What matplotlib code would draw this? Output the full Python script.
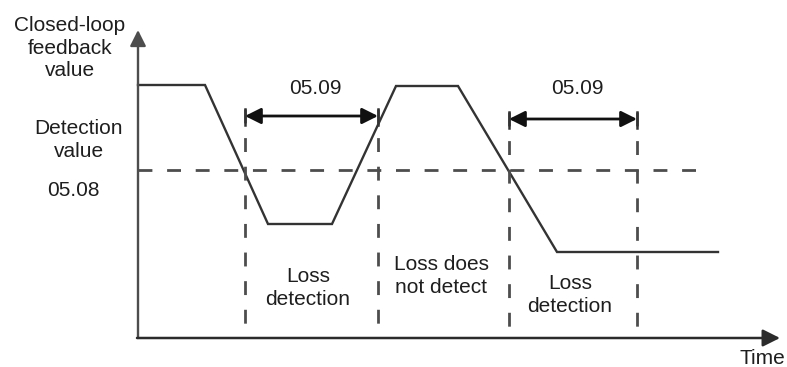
import matplotlib
matplotlib.use("Agg")
import matplotlib.pyplot as plt

# ---- data (time / value units, origin at axes corner) ----
signal_t = [0, 67, 130, 194, 258, 320, 419, 580]
signal_v = [253, 253, 114, 114, 252, 252, 86, 86]
detection_level = 168
detection_end = 560
marker_t = [107, 240, 371, 499]
marker_top = [229, 229, 226, 226]
span_pairs = [(107, 240), (371, 499)]
span_levels = [222, 219]
span_label = "05.09"
region_labels = ["Loss\ndetection", "Loss does\nnot detect", "Loss\ndetection"]
region_centers = [(170, 50), (303, 62), (432, 43)]
y_title = "Closed-loop\nfeedback\nvalue"
det_title = "Detection\nvalue"
det_param = "05.08"
x_title = "Time"

W, H = 787, 367
OX, OY = 138, 338  # pixel position of origin

plt.rcParams['font.family'] = ['Liberation Sans', 'DejaVu Sans']
fig = plt.figure(figsize=(W / 100, H / 100), dpi=100)
ax = fig.add_axes([0, 0, 1, 1])
ax.set_xlim(-OX, W - OX)
ax.set_ylim(-(H - OY), OY)
ax.axis('off')

fs = 15
dark = '#2b2b2b'
gray = '#4d4d4d'
tc = '#1e1e1e'

# axes with arrows
ax.annotate('', xy=(0, 308), xytext=(0, 0),
            arrowprops=dict(arrowstyle='-|>', color=gray, lw=1.7,
                            mutation_scale=24, shrinkA=0, shrinkB=0))
ax.annotate('', xy=(642, 0), xytext=(-1, 0),
            arrowprops=dict(arrowstyle='-|>', color=dark, lw=1.8,
                            mutation_scale=26, shrinkA=0, shrinkB=0))

# signal
ax.plot(signal_t, signal_v, color='#333333', lw=1.7, solid_joinstyle='miter')

# detection level dashed
ax.plot([0, detection_end], [detection_level, detection_level], color=gray,
        lw=2.0, dashes=(5, 5.3))

# vertical dashed markers
for t, top in zip(marker_t, marker_top):
    ax.plot([t, t], [top, 0], color=gray, lw=2.0, dashes=(5, 5.3))

# dimension arrows
for (t1, t2), lv in zip(span_pairs, span_levels):
    ax.annotate('', xy=(t2, lv), xytext=(t1, lv),
                arrowprops=dict(arrowstyle='<|-|>', color='#111111', lw=2.0,
                                mutation_scale=24, shrinkA=0, shrinkB=0))
    ax.plot([t1, t1], [lv + 7, lv - 9], color='#333333', lw=1.8)
    ax.plot([t2, t2], [lv + 7, lv - 9], color='#333333', lw=1.8)
    ax.text((t1 + t2) / 2 + 4, 250, span_label, fontsize=fs, ha='center',
            va='center', color=tc)

# region labels
for lab, (cx, cy) in zip(region_labels, region_centers):
    ax.text(cx, cy, lab, fontsize=fs, ha='center', va='center',
            color=tc, linespacing=1.22)

# y titles
ax.text(-68, 290, y_title, fontsize=fs, ha='center', va='center',
        color=tc, linespacing=1.22)
ax.text(-59, 198, det_title, fontsize=fs, ha='center', va='center',
        color=tc, linespacing=1.22)
ax.text(-65, 148, det_param, fontsize=fs, ha='center', va='center',
        color=tc)
ax.text(624, -21, x_title, fontsize=fs, ha='center', va='center',
        color=tc)

fig.savefig('out.png', dpi=100, facecolor='white')
